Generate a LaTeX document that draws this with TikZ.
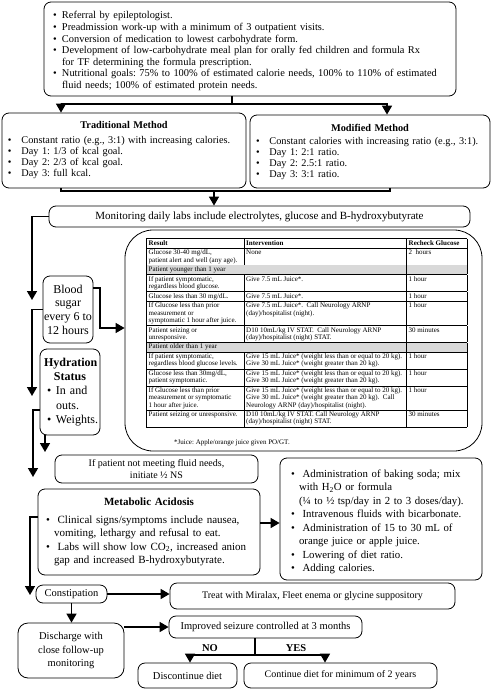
\documentclass[tikz,border=0pt]{standalone}
\usepackage{fontspec}
\setmainfont{Liberation Serif}
\usepackage{colortbl}
\usetikzlibrary{arrows.meta}
\frenchspacing
\newcommand{\itm}[1][9pt]{\par\hangindent=#1\hangafter=1\noindent\makebox[#1][l]{\textbullet}}

\begin{document}
\begin{tikzpicture}[x=1pt, y=-1pt,
	box/.style={draw, line width=0.8pt, rounded corners=7pt, inner sep=0pt},
	ln/.style={line width=1.5pt},
	arr/.style={line width=1.5pt, -{Triangle[length=9pt,width=10pt]}}]
			%%%%% START %%%%%
			\useasboundingbox (0,0) rectangle (492,690);
			
			\node[box, minimum width=412pt, minimum height=94pt, text width=394pt, align=left, font=\fontsize{10.4}{11.6}\selectfont] (prep) at (250,49) {%
				\itm Referral by epileptologist.
				\itm Preadmission work-up with a minimum of 3 outpatient visits.
				\itm Conversion of medication to lowest carbohydrate form.
				\itm Development of low-carbohydrate meal plan for orally fed children and formula Rx\newline for TF determining the formula prescription.
				\itm Nutritional goals: 75\% to 100\% of estimated calorie needs, 100\% to 110\% of estimated\newline fluid needs; 100\% of estimated protein needs.\par};
			
			\node[box, minimum width=244pt, minimum height=75pt, text width=232pt, align=left, font=\fontsize{10.3}{11}\selectfont] (trad) at (124,150.5) {%
				{\centering\textbf{Traditional Method}\par}\vspace{4pt}
				\itm[10pt] Constant ratio (e.g., 3:1) with increasing calories.
				\itm[10pt] Day 1: 1/3 of kcal goal.
				\itm[10pt] Day 2: 2/3 of kcal goal.
				\itm[10pt] Day 3: full kcal.\par};
			\node[box, minimum width=240pt, minimum height=73pt, text width=228pt, align=left, font=\fontsize{10.3}{11}\selectfont] (mod) at (370,151.5) {%
				{\centering\textbf{Modified Method}\par}\vspace{2pt}
				\itm[10pt] Constant calories with increasing ratio (e.g., 3:1).
				\itm[10pt] Day 1: 2:1 ratio.
				\itm[10pt] Day 2: 2.5:1 ratio.
				\itm[10pt] Day 3: 3:1 ratio.\par};
			
			\coordinate (s1) at (232,104);
			\coordinate (t1) at (61,104);
			\coordinate (m1) at (387,104);
			\draw[ln] (prep.south -| s1) -- (s1);
			\draw[arr] (s1) -- (t1) -- (trad.north -| t1);
			\draw[arr] (s1) -- (m1) -- (mod.north -| m1);
			
			\coordinate (t2) at (61,191);
			\coordinate (m2) at (390,191);
			\coordinate (s2) at (214,191);
			\draw[ln] (trad.south -| t2) -- (t2) -- (m2) -- (mod.south -| m2);
			
			\node[box, minimum width=421pt, minimum height=21pt, font=\fontsize{11}{13}\selectfont] (mon) at (259.5,216.5) {Monitoring daily labs include electrolytes, glucose and B-hydroxybutyrate};
			\draw[arr] (s2) -- (mon.north -| s2);
			
			\node[box, minimum width=50pt, minimum height=67pt, align=center, font=\fontsize{12}{13.7}\selectfont] (bs) at (68,309.5) {Blood\\sugar\\every 6 to\\12 hours};
			\node[box, minimum width=60pt, minimum height=86pt, text width=52pt, align=left, font=\fontsize{12}{14.2}\selectfont] (hyd) at (70,392) {%
				{\centering\textbf{Hydration}\\\textbf{Status}\par}\leftskip=3pt
				\itm In and\newline outs.
				\itm Weights.\par};
			
			% glucose table
			\node[box, rounded corners=28pt, minimum width=357pt, minimum height=221pt] (tbox) at (303.5,340.5) {};
			\node[anchor=north west, inner sep=0pt, font=\fontsize{7}{7.3}\selectfont] (tab) at (146,238) {%
				\setlength{\tabcolsep}{2pt}\renewcommand{\arraystretch}{1.25}\setlength{\arrayrulewidth}{0.5pt}%
				\begin{tabular}{|p{93pt}|p{158pt}|p{56pt}|}
					\hline
					\textbf{Result} & \textbf{Intervention} & \textbf{Recheck Glucose}\\ \hline
					Glucose 30-40 mg/dL,\newline patient alert and well (any age). & None & 2\ \ hours\\ \hline
					\rowcolor{black!15} Patient younger than 1 year & & \\ \hline
					If patient symptomatic,\newline regardless blood glucose. & Give 7.5 mL Juice*. & 1 hour\\ \hline
					Glucose less than 30 mg/dL. & Give 7.5 mL Juice*. & 1 hour\\ \hline
					If Glucose less than prior\newline measurement or\newline symptomatic 1 hour after juice. & Give 7.5 mL Juice*.\ \ Call Neurology ARNP\newline (day)/hospitalist (night). & 1 hour\\ \hline
					Patient seizing or\newline unresponsive. & D10 10mL/kg IV STAT.\ \ Call Neurology ARNP\newline (day)/hospitalist (night) STAT. & 30 minutes\\ \hline
					\rowcolor{black!15} Patient older than 1 year & & \\ \hline
					If patient symptomatic,\newline regardless blood glucose levels. & Give 15 mL Juice* (weight less than or equal to 20 kg).\newline Give 30 mL Juice* (weight greater than 20 kg). & 1 hour\\ \hline
					Glucose less than 30mg/dL,\newline patient symptomatic. & Give 15 mL Juice* (weight less than or equal to 20 kg).\newline Give 30 mL Juice* (weight greater than 20 kg). & 1 hour\\ \hline
					If Glucose less than prior\newline measurement or symptomatic\newline 1 hour after juice. & Give 15 mL Juice* (weight less than or equal to 20 kg).\newline Give 30 mL Juice* (weight greater than 20 kg).\ \ Call\newline Neurology ARNP (day)/hospitalist (night). & 1 hour\\ \hline
					Patient seizing or unresponsive. & D10 10mL/kg IV STAT. Call Neurology ARNP\newline (day)/hospitalist (night) STAT. & 30 minutes\\ \hline
			\end{tabular}};
			\node[anchor=west, inner sep=0pt, font=\fontsize{7}{8}\selectfont] (note) at (174,443) {*Juice: Apple/orange juice given PO/GT.};
			
			\coordinate (b1) at (100,328);
			\draw[arr] ([yshift=21.5pt]bs.east) -| (b1) -- (b1 -| tbox.west);
			
			\node[box, minimum width=203pt, minimum height=28pt, align=center, font=\fontsize{10}{12.5}\selectfont] (ifp) at (156.5,469) {If patient not meeting fluid needs,\\initiate ½ NS};
			
			\node[box, minimum width=222pt, minimum height=86pt, text width=206pt, align=left, font=\fontsize{11}{13.6}\selectfont] (meta) at (149,532) {%
				{\centering\textbf{Metabolic Acidosis}\par}\vspace{4pt}
				\itm[8pt] Clinical signs/symptoms include nausea,\newline vomiting, lethargy and refusal to eat.
				\itm[8pt] Labs will show low CO\textsubscript{2}, increased anion\newline gap and increased B-hydroxybutyrate.\par};
			\node[box, minimum width=202pt, minimum height=122pt, text width=180pt, align=left, font=\fontsize{10.8}{13.5}\selectfont] (bak) at (381,519) {%
				\itm[8pt] Administration of baking soda; mix\newline with H\textsubscript{2}O or formula\newline (¼ to ½ tsp/day in 2 to 3 doses/day).
				\itm[8pt] Intravenous fluids with bicarbonate.
				\itm[8pt] Administration of 15 to 30 mL of\newline orange juice or apple juice.
				\itm[8pt] Lowering of diet ratio.
				\itm[8pt] Adding calories.\par};
			\draw[arr] ([yshift=9pt]meta.east) coordinate (me) -- (me -| bak.west);
			
			% left side feed lines
			\coordinate (l1) at (32,300);
			\coordinate (l2) at (32,396);
			\coordinate (l3) at (33,477);
			\coordinate (l4) at (45,452);
			\coordinate (l5) at (30,595);
			\draw[arr] (mon.west) -- (mon.west -| l1) -- (l1);
			\draw[arr] (bs.west) -- (bs.west -| l2) -- (l2);
			\draw[arr] ([yshift=-18pt]hyd.west) coordinate (h1) -- (h1 -| l3) -- (l3);
			\draw[arr] (hyd.south -| l4) -- (l4);
			\draw[arr] ([yshift=15pt]meta.west) coordinate (a1) -- (a1 -| l5) -- (l5);
			
			\node[box, minimum width=71pt, minimum height=18pt, font=\fontsize{10.5}{12}\selectfont] (con) at (71.5,594) {Constipation};
			\node[box, minimum width=285pt, minimum height=26pt, font=\fontsize{10}{12}\selectfont] (trt) at (312.5,596) {Treat with Miralax, Fleet enema or glycine suppository};
			\node[box, rounded corners=10pt, minimum width=106pt, minimum height=55pt, align=center, font=\fontsize{10.5}{13.5}\selectfont] (dis) at (71,650.5) {Discharge with\\close follow-up\\monitoring};
			\node[box, minimum width=193pt, minimum height=22pt, font=\fontsize{10.5}{12}\selectfont] (imp) at (265.5,627) {Improved seizure controlled at 3 months};
			\node[box, minimum width=99pt, minimum height=25pt, font=\fontsize{10.5}{12}\selectfont] (stop) at (187.5,675.5) {Discontinue diet};
			\node[box, minimum width=193pt, minimum height=25pt, font=\fontsize{10}{12}\selectfont] (cont) at (340.5,675.5) {Continue diet for minimum of 2 years};
			
			\draw[arr] (con.east) -- (con.east -| trt.west);
			\draw[arr] (con.south) -- (con.south |- dis.north);
			\draw[arr] (imp.west -| dis.east) -- (imp.west);
			
			\coordinate (s3) at (255,655);
			\coordinate (n1) at (190,655);
			\coordinate (y1) at (325,655);
			\draw[ln] (imp.south -| s3) -- (s3);
			\draw[arr] (s3) -- (n1) -- (stop.north -| n1);
			\draw[arr] (s3) -- (y1) -- (cont.north -| y1);
			\node[font=\bfseries\fontsize{10.5}{12}\selectfont] (no) at (210,648) {NO};
			\node[font=\bfseries\fontsize{10.5}{12}\selectfont] (yes) at (296,648) {YES};
			
			%%%%% END %%%%%
\end{tikzpicture}
\end{document}
